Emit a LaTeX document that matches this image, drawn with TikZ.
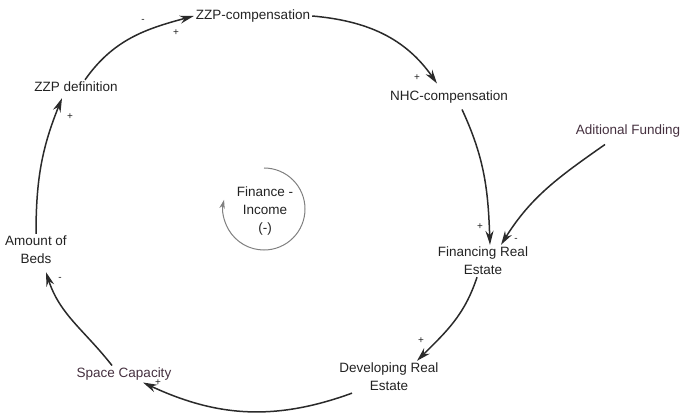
\documentclass[tikz,border=0pt]{standalone}
\usepackage{fontspec}
\setmainfont{Liberation Sans}
\usetikzlibrary{arrows.meta}

\definecolor{linegray}{HTML}{2A2A2A}
\definecolor{textgray}{HTML}{222222}
\definecolor{mauve}{HTML}{45303F}

\begin{document}
\begin{tikzpicture}[x=1pt,y=1pt,>={Stealth[length=14pt,width=8pt]},
  main node/.style={font=\fontsize{13.5}{18}\selectfont,text=textgray,
  align=center,inner sep=2pt},
  sign/.style={font=\fontsize{10}{10}\selectfont,text=textgray,inner sep=0pt},
  link/.style={->,draw=linegray,line width=1.5pt},
  loop arrow/.style={-{Stealth[length=9pt,width=5.5pt]},draw=gray,line width=1pt}]

  \useasboundingbox (0,0) rectangle (683,-414);

  \node[main node] (zzpc) at (253,-16) {ZZP-compensation};
  \node[main node] (nhc) at (449,-97) {NHC-compensation};
  \node[main node,text=mauve] (fund) at (628,-131) {Aditional Funding};
  \node[main node] (fin) at (483,-261) {Financing Real\\Estate};
  \node[main node] (dev) at (389,-377) {Developing Real\\Estate};
  \node[main node,text=mauve] (space) at (124,-374) {Space Capacity};
  \node[main node] (beds) at (36,-250) {Amount of\\Beds};
  \node[main node] (zzpd) at (76,-87) {ZZP definition};
  \node[main node] (loop) at (265,-211) {Finance -\\Income\\(-)};

  \path[every edge/.append style={link}]
    %Main loop, clockwise%
    ([xshift=9pt]zzpd.north) edge [out=55,in=195] (zzpc.west)
    (zzpc.east) edge [out=-5,in=125] ([xshift=-12pt,yshift=5pt]nhc.north)
    ([xshift=13pt,yshift=-4pt]nhc.south) edge [out=-65,in=92] ([xshift=7pt]fin.north)
    ([xshift=-6pt]fin.south) edge [out=252,in=45] ([xshift=28pt]dev.north)
    ([xshift=-37pt]dev.south) edge [out=200,in=-25] ([xshift=19pt]space.south)
    ([xshift=-12pt]space.north) edge [out=128,in=-72] ([xshift=10pt,yshift=-6pt]beds.south)
    (beds.north) edge [out=90,in=-112] ([xshift=-14pt,yshift=-4pt]zzpd.south)
    %Outside funding into financing%
    ([xshift=-23pt,yshift=-5pt]fund.south) edge [out=215,in=58] ([xshift=18pt]fin.north);

  %Signs%
  \node[sign] (s1) at (143,-21) {-};
  \node[sign] (s2) at (176,-33) {+};
  \node[sign] (s3) at (417,-78) {+};
  \node[sign] (s4) at (480,-227) {+};
  \node[sign] (s5) at (516,-240) {-};
  \node[sign] (s6) at (421,-341) {+};
  \node[sign] (s7) at (158,-383) {+};
  \node[sign] (s8) at (60,-279) {-};
  \node[sign] (s9) at (70,-117) {+};

  %Balancing loop marker%
  \draw[loop arrow] (loop.center) ++(-1,43) arc[start angle=90,end angle=-193,radius=41];

\end{tikzpicture}
\end{document}
